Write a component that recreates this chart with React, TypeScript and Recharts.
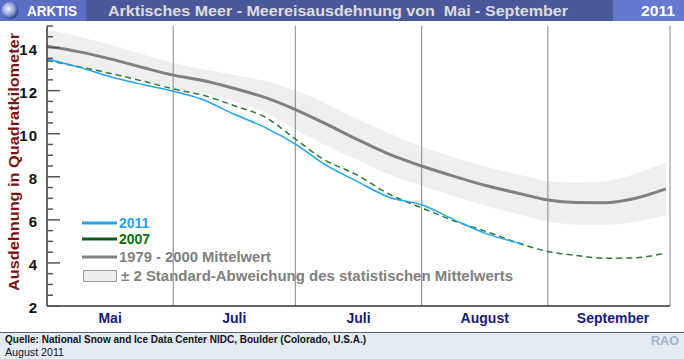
import { ComposedChart, Line, Area, XAxis, YAxis, ReferenceLine } from 'recharts';

// day 0 = 1 May, 153 = 1 Oct
const days = [0, 8, 16, 24, 31, 38, 46, 54, 61, 68, 76, 84, 92, 100, 108, 117, 123, 130, 137, 144, 152];
const mean = [14.06, 13.8, 13.45, 13.05, 12.72, 12.48, 12.1, 11.65, 11.12, 10.5, 9.75, 9.05, 8.5, 8.02, 7.58, 7.18, 6.92, 6.8, 6.79, 6.98, 7.44];
const upper = [14.84, 14.5, 14.1, 13.65, 13.28, 13.0, 12.72, 12.42, 12.0, 11.45, 10.7, 10.02, 9.4, 8.9, 8.45, 8.05, 7.8, 7.72, 7.78, 8.1, 8.67];
const lower = [13.35, 13.05, 12.75, 12.45, 12.15, 11.9, 11.5, 10.95, 10.2, 9.5, 8.8, 8.1, 7.6, 7.1, 6.65, 6.2, 5.92, 5.78, 5.77, 5.9, 6.2];
const y2011 = [13.47, 13.08, 12.62, 12.26, 11.97, 11.6, 10.9, 10.25, 9.52, 8.6, 7.8, 7.05, 6.7, 6.0, 5.35, 4.88, null, null, null, null, null];
const y2007 = [13.4, 13.1, 12.78, 12.42, 12.08, 11.8, 11.3, 10.72, 9.75, 8.8, 8.1, 7.2, 6.56, 5.95, 5.45, 4.84, 4.53, 4.35, 4.22, 4.23, 4.47];

const monthStarts = [31, 61, 92, 123, 153];
const monthMids = [15.5, 46, 76.5, 107.5, 139];
const monthLabels = ['Mai', 'Juli', 'Juli', 'August', 'September'];
const yTicks = [2, 2.5, 3, 3.5, 4, 4.5, 5, 5.5, 6, 6.5, 7, 7.5, 8, 8.5, 9, 9.5, 10, 10.5, 11, 11.5, 12, 12.5, 13, 13.5, 14, 14.5, 15];
const yLabels = [2, 4, 6, 8, 10, 12, 14];

const data = days.map((d, i) => ({
  day: d,
  mean: mean[i],
  band: [lower[i], upper[i]],
  y2011: y2011[i],
  y2007: y2007[i],
}));

const font = '"Liberation Sans", Arial, sans-serif';

const YTick = (props: any) => {
  const { x, y, payload } = props;
  const major = yLabels.includes(payload.value);
  return (
    <g>
      <line x1={x} x2={x + (major ? 13 : 6)} y1={y} y2={y} stroke="#555" strokeWidth={1.5} />
      {major && (
        <text x={x - 9} y={y + 7} textAnchor="end" fontSize={15} fontWeight="bold" fill="#111" fontFamily={font} letterSpacing={1}>
          {payload.value}
        </text>
      )}
    </g>
  );
};

const XTick = (props: any) => {
  const { x, y, payload } = props;
  const label = monthLabels[monthMids.indexOf(payload.value)];
  return (
    <text x={x} y={y + 15} textAnchor="middle" fontSize={14} fontWeight="bold" fill="#1a1a78" fontFamily={font}>
      {label}
    </text>
  );
};

const Decor = () => (
  <svg width={684} height={359} style={{ position: 'absolute', left: 0, top: 0 }}>
    <defs>
      <radialGradient id="globe" cx="40%" cy="40%" r="60%">
        <stop offset="0%" stopColor="#f0f4ff" />
        <stop offset="60%" stopColor="#8aa0d8" />
        <stop offset="100%" stopColor="#2a3f88" />
      </radialGradient>
    </defs>
    {/* header */}
    <rect x={0} y={0} width={86} height={21} fill="#5c6dc6" />
    <rect x={86} y={0} width={527} height={21} fill="#4a589b" />
    <rect x={613} y={0} width={71} height={21} fill="#6678d0" />
    <circle cx={10} cy={10.5} r={8.5} fill="url(#globe)" />
    <text x={27} y={16} fontSize={15} fontWeight="bold" fill="#fff" fontFamily={font} textLength={50} lengthAdjust="spacingAndGlyphs">ARKTIS</text>
    <text x={108} y={16} fontSize={15} fontWeight="bold" fill="#dedede" fontFamily={font} style={{ whiteSpace: 'pre' }} textLength={460} lengthAdjust="spacingAndGlyphs">
      Arktisches Meer - Meereisausdehnung von  Mai - September
    </text>
    <text x={641} y={16} fontSize={15} fontWeight="bold" fill="#fff" fontFamily={font} textLength={34} lengthAdjust="spacingAndGlyphs">2011</text>

    {/* y axis title */}
    <text x={0} y={0} transform="translate(19,162) rotate(-90)" textAnchor="middle" fontSize={15} fontWeight="bold" fill="#7a1414" fontFamily={font} textLength={258} lengthAdjust="spacingAndGlyphs">
      Ausdehnung in Quadratkilometer
    </text>

    {/* legend */}
    <line x1={82} x2={117} y1={223} y2={223} stroke="#2aa0f0" strokeWidth={3} />
    <text x={119} y={228} fontSize={14} fontWeight="bold" fill="#2aa0f0" fontFamily={font}>2011</text>
    <line x1={82} x2={117} y1={239} y2={239} stroke="#0b5a1e" strokeWidth={3} />
    <text x={119} y={244} fontSize={14} fontWeight="bold" fill="#0a700a" fontFamily={font}>2007</text>
    <line x1={82} x2={117} y1={257} y2={257} stroke="#808080" strokeWidth={3} />
    <text x={119} y={262} fontSize={14} fontWeight="bold" fill="#808080" fontFamily={font} textLength={152} lengthAdjust="spacingAndGlyphs">1979 - 2000 Mittelwert</text>
    <rect x={83.5} y={270.5} width={33} height={11} fill="#eeeeee" stroke="#999" />
    <text x={121} y={281} fontSize={14} fontWeight="bold" fill="#808080" fontFamily={font} textLength={392} lengthAdjust="spacingAndGlyphs">± 2 Standard-Abweichung des statistischen Mittelwerts</text>

    {/* footer */}
    <rect x={0} y={332} width={684} height={27} fill="#e3ebf5" />
    <line x1={0} x2={684} y1={332.5} y2={332.5} stroke="#556070" />
    <text x={5} y={343} fontSize={11} fontWeight="bold" fill="#111" fontFamily={font} textLength={361} lengthAdjust="spacingAndGlyphs">
      Quelle: National Snow and Ice Data Center NIDC, Boulder (Colorado, U.S.A.)
    </text>
    <text x={5} y={356} fontSize={11} fill="#111" fontFamily={font} textLength={59} lengthAdjust="spacingAndGlyphs">August 2011</text>
    <text x={651} y={345} fontSize={12} fontWeight="bold" fill="#9fb2cc" fontFamily={font} textLength={28} lengthAdjust="spacingAndGlyphs">RAO</text>
  </svg>
);

export default function App() {
  return (
    <div style={{ position: 'absolute', left: 0, top: 0, width: 684, height: 359, background: '#fff', overflow: 'hidden' }}>
      <Decor />
      <div style={{ position: 'absolute', left: 0, top: 0 }}>
        <ComposedChart width={684} height={359} data={data} margin={{ top: 26, right: 14, bottom: 23, left: 0 }}>
          <XAxis
            type="number"
            dataKey="day"
            domain={[0, 153]}
            ticks={monthMids}
            interval={0}
            height={30}
            tickLine={false}
            tickSize={0}
            tick={<XTick />}
            axisLine={{ stroke: '#333', strokeWidth: 1.5 }}
            allowDataOverflow
          />
          <YAxis
            type="number"
            domain={[2, 15]}
            ticks={yTicks}
            interval={0}
            width={47}
            tickLine={false}
            tickSize={0}
            tickMargin={0}
            tick={<YTick />}
            axisLine={{ stroke: '#333', strokeWidth: 1.5 }}
            allowDataOverflow
          />
          <Area dataKey="band" type="monotone" fill="#efefef" fillOpacity={1} stroke="none" isAnimationActive={false} />
          {monthStarts.map((m) => (
            <ReferenceLine key={m} x={m} stroke="#999" strokeWidth={1.2} ifOverflow="visible" />
          ))}
          <Line dataKey="mean" type="monotone" stroke="#808080" strokeWidth={3} dot={false} isAnimationActive={false} />
          <Line dataKey="y2007" type="monotone" stroke="#2a7a3a" strokeWidth={1.5} strokeDasharray="6 4" dot={false} isAnimationActive={false} />
          <Line dataKey="y2011" type="monotone" stroke="#1ea4f4" strokeWidth={1.5} dot={false} isAnimationActive={false} />
        </ComposedChart>
      </div>
    </div>
  );
}
